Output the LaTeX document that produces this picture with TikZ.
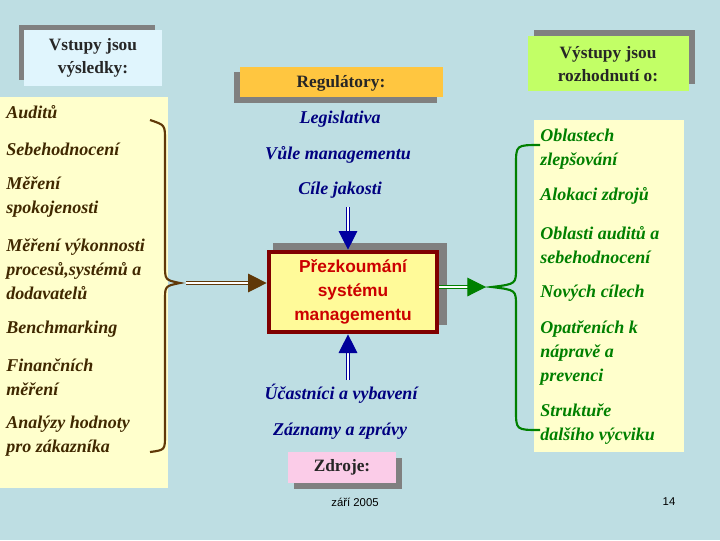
\documentclass[tikz,border=0pt]{standalone}
\usepackage{fontspec}
\setmainfont{Liberation Serif}
\newfontfamily\arialf{Liberation Sans}
\usetikzlibrary{arrows.meta}
\definecolor{bg}{RGB}{190,222,227}
\definecolor{paley}{RGB}{255,255,204}
\definecolor{brownc}{RGB}{96,56,8}
\definecolor{itemc}{RGB}{64,40,0}
\definecolor{navyc}{RGB}{0,0,128}
\definecolor{greenc}{RGB}{0,128,0}
\definecolor{shad}{RGB}{128,128,128}
\definecolor{darkred}{RGB}{128,0,0}
\definecolor{redc}{RGB}{204,0,0}
\definecolor{bluea}{RGB}{0,0,160}
\tikzset{
 item/.style={anchor=west,align=left,font=\fontsize{13.5}{18}\selectfont\bfseries\itshape,inner sep=0pt},
 litem/.style={item,text=itemc},
 ritem/.style={item,text=greenc},
 mitem/.style={font=\fontsize{13.5}{18}\selectfont\bfseries\itshape,text=navyc,inner sep=0pt},
 hdr/.style={font=\fontsize{13}{17}\selectfont\bfseries,align=center,text=black!85},
 dblarrow/.style={line width=0.8pt,double distance=2pt,-{Triangle[length=14pt,width=14pt]}},
}
\begin{document}
\begin{tikzpicture}[x=0.75pt,y=-0.75pt]
\fill[bg] (0,0) rectangle (720,540);
\useasboundingbox (0,0) rectangle (720,540);
% left header
\fill[shad] (19,25) rectangle (155,80);
\fill[cyan!12] (24,30) rectangle (162,86);
\node[hdr] (lh) at (93,58) {Vstupy jsou\\výsledky:};
% left panel
\fill[paley] (0,97) rectangle (168,488);
\node[litem] (l1) at (6,112) {Auditů};
\node[litem] (l2) at (6,149) {Sebehodnocení};
\node[litem] (l3) at (6,197) {Měření\\spokojenosti};
\node[litem] (l4) at (6,269) {Měření výkonnosti\\procesů,systémů a\\dodavatelů};
\node[litem] (l5) at (6,329) {Benchmarking};
\node[litem] (l6) at (6,377) {Finančních\\měření};
\node[litem] (l7) at (6,436) {Analýzy hodnoty\\pro zákazníka};
% brace left
\coordinate (lb) at (180,283);
\coordinate (la) at (186,283);
\draw[brownc,line width=1.6pt] (150,120) .. controls (165,125) .. (165,140) -- (165,265) .. controls (165,280) .. (lb) .. controls (165,286) .. (165,300) -- (165,435) .. controls (165,450) .. (150,452);
% regulators header
\fill[shad] (234,72) rectangle (437,103);
\fill[orange!60!yellow!75] (240,67) rectangle (443,97);
\node[hdr] (rg) at (341,83) {Regulátory:};
\node[mitem] (m1) at (340,119) {Legislativa};
\node[mitem] (m2) at (338,155) {Vůle managementu};
\node[mitem] (m3) at (340,190) {Cíle jakosti};
% central box
\fill[shad] (273,243) rectangle (447,325);
\node[draw=darkred,line width=3.5pt,fill=yellow!40,minimum width=168pt*0.75,minimum height=80pt*0.75,
 align=center,text=redc,font=\arialf\fontsize{13}{18}\selectfont\bfseries] (c) at (353,292) {Přezkoumání\\systému\\managementu};
% arrows
\draw[brownc,dblarrow] (la) -- (la -| c.west);
\draw[bluea,dblarrow] (348,207) -- (c.north -| 348,0);
\node[mitem] (b1) at (341,394) {Účastníci a vybavení};
\node[mitem] (b2) at (340,431) {Záznamy a zprávy};
\draw[navyc!80!blue,dblarrow] (348,380) -- (c.south -| 348,0);
% zdroje
\fill[shad] (294,458) rectangle (402,489);
\fill[magenta!20] (288,452) rectangle (396,483);
\node[hdr] (zd) at (342,467) {Zdroje:};
\node[font=\arialf\fontsize{8.5}{10}\selectfont] (dt) at (355,502) {září 2005};
\node[font=\arialf\fontsize{8.5}{10}\selectfont] (pg) at (669,502) {14};
% right header
\fill[shad] (534,30) rectangle (695,84);
\fill[green!40!yellow!60] (528,36) rectangle (689,91);
\node[hdr] (rh) at (608,64) {Výstupy jsou\\rozhodnutí o:};
% right panel
\fill[paley] (534,120) rectangle (684,452);
\node[ritem] (r1) at (540,149) {Oblastech\\zlepšování};
\node[ritem] (r2) at (540,196) {Alokaci zdrojů};
\node[ritem] (r3) at (540,245) {Oblasti auditů a\\sebehodnocení};
\node[ritem] (r4) at (540,293) {Nových cílech};
\node[ritem] (r5) at (540,353) {Opatřeních k\\nápravě a\\prevenci};
\node[ritem] (r6) at (540,424) {Struktuře\\dalšího výcviku};
% brace right
\coordinate (rb) at (492,287);
\coordinate (ra) at (486,287);
\draw[greenc,line width=1.6pt] (540,145) .. controls (516,145) .. (516,165) -- (516,268) .. controls (516,284) .. (rb) .. controls (516,290) .. (516,306) -- (516,410) .. controls (516,430) .. (540,430);
\draw[greenc,dblarrow] (ra -| c.east) -- (ra);
\end{tikzpicture}
\end{document}
